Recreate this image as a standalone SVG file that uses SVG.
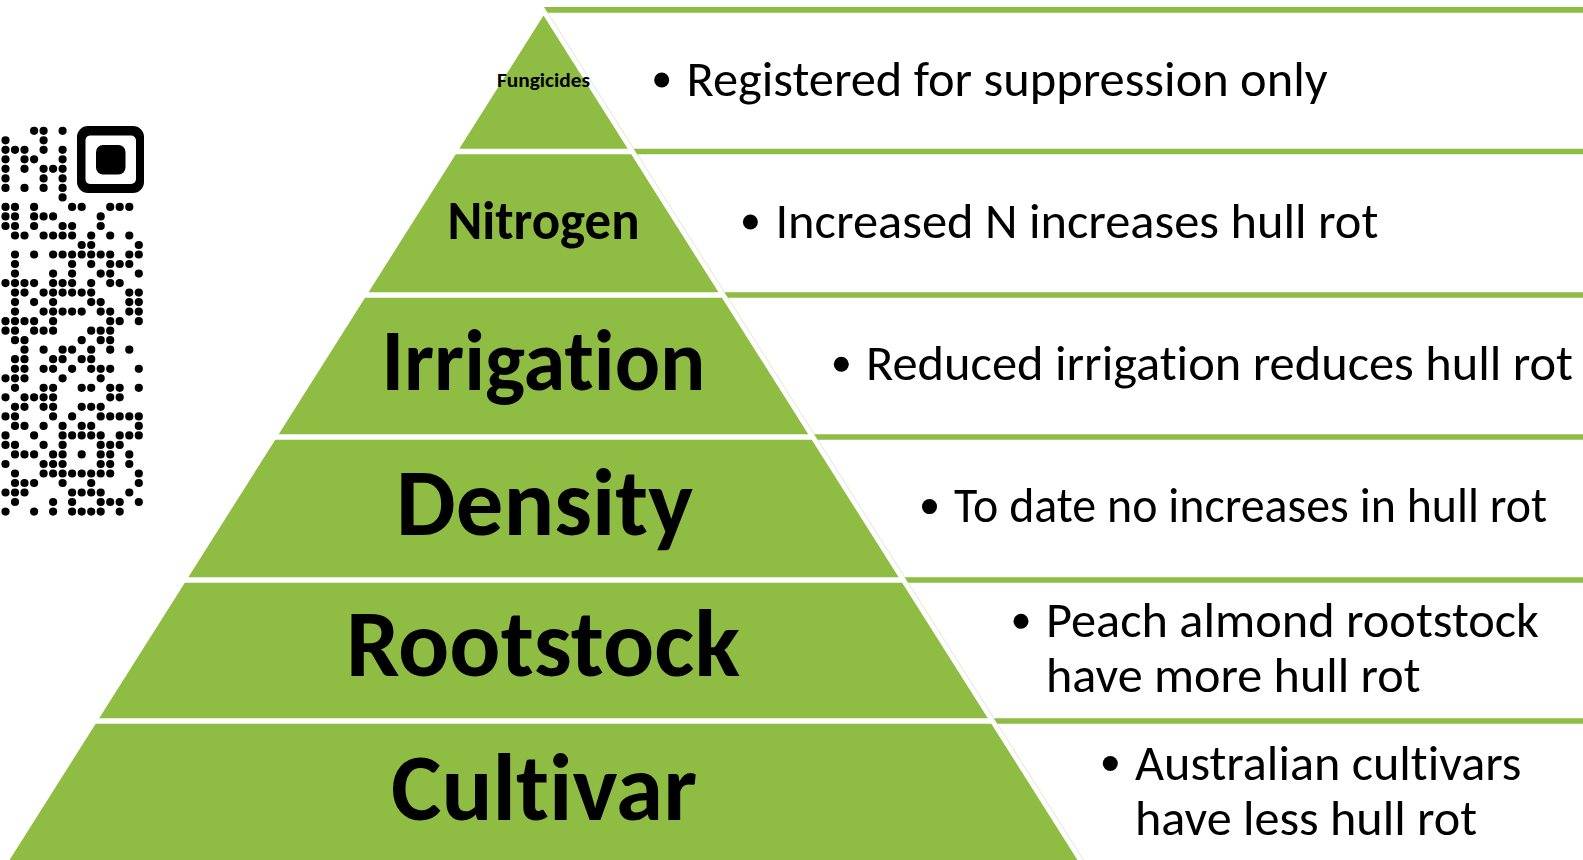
<svg xmlns="http://www.w3.org/2000/svg" width="1583" height="860" viewBox="0 0 1583 860">
<style>
.band{fill:#8FBD43}
.bar{fill:#8FBD43}
.lbl{font-family:Carlito,"Liberation Sans",Arial,sans-serif;font-weight:bold;fill:#000;text-anchor:middle;font-variant-ligatures:none;font-feature-settings:"liga" 0,"clig" 0}
.txt{font-family:Carlito,"Liberation Sans",Arial,sans-serif;font-size:50px;fill:#000;font-variant-ligatures:none;font-feature-settings:"liga" 0,"clig" 0}
.bul{fill:#000}
</style>
<rect x="0" y="0" width="1583" height="860" fill="#fff"/>
<g id="qr">
<path fill="none" stroke="#000" stroke-width="8.2" stroke-linecap="round" d="M34.1 130.8h0M43.6 130.8h0M62.6 130.8h0M5.5 140.3h0M43.6 140.3h0M5.5 149.8h0M15 149.8h0M24.5 149.8h0M43.6 149.8h0M62.6 149.8h0M5.5 159.3h0M24.5 159.3h0M34.1 159.3h0M62.6 159.3h0M5.5 168.8h0M24.5 168.8h0M43.6 168.8h0M53.1 168.8h0M62.6 168.8h0M5.5 178.4h0M43.6 178.4h0M62.6 178.4h0M5.5 187.9h0M24.5 187.9h0M43.6 187.9h0M62.6 187.9h0M62.6 197.4h0M5.5 206.9h0M15 206.9h0M34.1 206.9h0M72.1 206.9h0M81.7 206.9h0M110.2 206.9h0M119.7 206.9h0M129.3 206.9h0M5.5 216.4h0M15 216.4h0M34.1 216.4h0M43.6 216.4h0M53.1 216.4h0M100.7 216.4h0M5.5 226h0M15 226h0M34.1 226h0M62.6 226h0M72.1 226h0M100.7 226h0M15 235.5h0M24.5 235.5h0M43.6 235.5h0M53.1 235.5h0M62.6 235.5h0M72.1 235.5h0M91.2 235.5h0M110.2 235.5h0M129.3 235.5h0M81.7 245h0M91.2 245h0M138.8 245h0M15 254.5h0M34.1 254.5h0M53.1 254.5h0M62.6 254.5h0M72.1 254.5h0M81.7 254.5h0M91.2 254.5h0M100.7 254.5h0M110.2 254.5h0M129.3 254.5h0M138.8 254.5h0M15 264h0M72.1 264h0M91.2 264h0M110.2 264h0M119.7 264h0M129.3 264h0M15 273.6h0M53.1 273.6h0M72.1 273.6h0M100.7 273.6h0M110.2 273.6h0M138.8 273.6h0M5.5 283.1h0M15 283.1h0M24.5 283.1h0M34.1 283.1h0M53.1 283.1h0M62.6 283.1h0M72.1 283.1h0M91.2 283.1h0M110.2 283.1h0M119.7 283.1h0M15 292.6h0M24.5 292.6h0M43.6 292.6h0M53.1 292.6h0M62.6 292.6h0M72.1 292.6h0M81.7 292.6h0M91.2 292.6h0M129.3 292.6h0M138.8 292.6h0M15 302.1h0M34.1 302.1h0M53.1 302.1h0M91.2 302.1h0M100.7 302.1h0M129.3 302.1h0M138.8 302.1h0M15 311.6h0M43.6 311.6h0M53.1 311.6h0M62.6 311.6h0M72.1 311.6h0M81.7 311.6h0M100.7 311.6h0M110.2 311.6h0M129.3 311.6h0M138.8 311.6h0M5.5 321.2h0M15 321.2h0M24.5 321.2h0M34.1 321.2h0M53.1 321.2h0M110.2 321.2h0M119.7 321.2h0M138.8 321.2h0M5.5 330.7h0M15 330.7h0M34.1 330.7h0M43.6 330.7h0M53.1 330.7h0M91.2 330.7h0M100.7 330.7h0M110.2 330.7h0M15 340.2h0M24.5 340.2h0M81.7 340.2h0M100.7 340.2h0M110.2 340.2h0M24.5 349.7h0M43.6 349.7h0M62.6 349.7h0M72.1 349.7h0M91.2 349.7h0M110.2 349.7h0M129.3 349.7h0M15 359.2h0M24.5 359.2h0M53.1 359.2h0M62.6 359.2h0M81.7 359.2h0M91.2 359.2h0M15 368.8h0M24.5 368.8h0M43.6 368.8h0M53.1 368.8h0M72.1 368.8h0M91.2 368.8h0M100.7 368.8h0M110.2 368.8h0M138.8 368.8h0M5.5 378.3h0M15 378.3h0M24.5 378.3h0M62.6 378.3h0M100.7 378.3h0M15 387.8h0M43.6 387.8h0M53.1 387.8h0M81.7 387.8h0M91.2 387.8h0M110.2 387.8h0M119.7 387.8h0M138.8 387.8h0M5.5 397.3h0M24.5 397.3h0M34.1 397.3h0M43.6 397.3h0M53.1 397.3h0M110.2 397.3h0M119.7 397.3h0M15 406.8h0M24.5 406.8h0M43.6 406.8h0M53.1 406.8h0M81.7 406.8h0M91.2 406.8h0M100.7 406.8h0M5.5 416.4h0M15 416.4h0M53.1 416.4h0M72.1 416.4h0M100.7 416.4h0M110.2 416.4h0M119.7 416.4h0M129.3 416.4h0M138.8 416.4h0M15 425.9h0M24.5 425.9h0M43.6 425.9h0M62.6 425.9h0M81.7 425.9h0M91.2 425.9h0M138.8 425.9h0M5.5 435.4h0M34.1 435.4h0M62.6 435.4h0M72.1 435.4h0M81.7 435.4h0M91.2 435.4h0M100.7 435.4h0M119.7 435.4h0M129.3 435.4h0M138.8 435.4h0M5.5 444.9h0M15 444.9h0M43.6 444.9h0M62.6 444.9h0M100.7 444.9h0M110.2 444.9h0M119.7 444.9h0M15 454.4h0M24.5 454.4h0M34.1 454.4h0M53.1 454.4h0M62.6 454.4h0M81.7 454.4h0M100.7 454.4h0M110.2 454.4h0M129.3 454.4h0M5.5 464h0M43.6 464h0M53.1 464h0M62.6 464h0M100.7 464h0M110.2 464h0M129.3 464h0M15 473.5h0M43.6 473.5h0M53.1 473.5h0M62.6 473.5h0M72.1 473.5h0M81.7 473.5h0M91.2 473.5h0M100.7 473.5h0M110.2 473.5h0M138.8 473.5h0M15 483h0M24.5 483h0M34.1 483h0M62.6 483h0M91.2 483h0M138.8 483h0M5.5 492.5h0M15 492.5h0M24.5 492.5h0M72.1 492.5h0M81.7 492.5h0M91.2 492.5h0M100.7 492.5h0M129.3 492.5h0M15 502h0M53.1 502h0M72.1 502h0M100.7 502h0M110.2 502h0M119.7 502h0M138.8 502h0M5.5 511.6h0M34.1 511.6h0M53.1 511.6h0M72.1 511.6h0M81.7 511.6h0M91.2 511.6h0M100.7 511.6h0M119.7 511.6h0"/>
<path fill="#000" fill-rule="evenodd" d="M88 126H133A11 11 0 0 1 144 137V182A11 11 0 0 1 133 193H88A11 11 0 0 1 77 182V137A11 11 0 0 1 88 126ZM90 135.5H131A5 5 0 0 1 136 140.5V179A5 5 0 0 1 131 184H90A5 5 0 0 1 85.5 179V140.5A5 5 0 0 1 90 135.5Z"/>
<rect x="96" y="145" width="29.5" height="29.5" rx="7" fill="#000"/>
</g>
<g id="divider">
<line x1="544.1" y1="7" x2="1083.5" y2="860" stroke="#dfe9cf" stroke-width="1"/>
</g>
<g id="level-fungicides">
<polygon class="band" points="543.5,15.5 627.75,148.75 459.25,148.75"/>
<text class="lbl" x="543.5" y="87" font-size="21" textLength="93" lengthAdjust="spacingAndGlyphs">Fungicides</text>
</g>
<g id="level-nitrogen">
<polygon class="band" points="455.77,154.25 631.23,154.25 718.49,292.25 368.51,292.25"/>
<text class="lbl" x="543.5" y="239.3" font-size="54" textLength="192" lengthAdjust="spacingAndGlyphs">Nitrogen</text>
</g>
<g id="level-irrigation">
<polygon class="band" points="365.03,297.75 721.97,297.75 808.27,434.25 278.73,434.25"/>
<text class="lbl" x="543.5" y="389.7" font-size="86" textLength="324" lengthAdjust="spacingAndGlyphs">Irrigation</text>
</g>
<g id="level-density">
<polygon class="band" points="275.25,439.75 811.75,439.75 898.69,577.25 188.31,577.25"/>
<text class="lbl" x="544.5" y="535" font-size="96" textLength="297" lengthAdjust="spacingAndGlyphs">Density</text>
</g>
<g id="level-rootstock">
<polygon class="band" points="184.83,582.75 902.17,582.75 987.85,718.25 99.15,718.25"/>
<text class="lbl" x="543" y="676.4" font-size="96" textLength="394" lengthAdjust="spacingAndGlyphs">Rootstock</text>
</g>
<g id="level-cultivar">
<polygon class="band" points="95.67,723.75 991.33,723.75 1077.47,860 9.53,860"/>
<text class="lbl" x="544" y="820" font-size="96" textLength="306" lengthAdjust="spacingAndGlyphs">Cultivar</text>
</g>
<g id="note-fungicides">
<polygon class="bar" points="544.1,7 1583,7 1583,12.7 547.7,12.7"/>
<circle class="bul" cx="661.7" cy="80" r="7.5"/>
<text class="txt" x="686.5" y="95.5" textLength="641" lengthAdjust="spacingAndGlyphs">Registered for suppression only</text>
</g>
<g id="note-nitrogen">
<polygon class="bar" points="633.75,148.75 1583,148.75 1583,154.25 637.23,154.25"/>
<circle class="bul" cx="750.4" cy="222" r="7.5"/>
<text class="txt" x="775.4" y="237.8" textLength="603" lengthAdjust="spacingAndGlyphs">Increased N increases hull rot</text>
</g>
<g id="note-irrigation">
<polygon class="bar" points="724.49,292.25 1583,292.25 1583,297.75 727.97,297.75"/>
<circle class="bul" cx="841.3" cy="364.3" r="7.5"/>
<text class="txt" x="866" y="380.1" textLength="707" lengthAdjust="spacingAndGlyphs">Reduced irrigation reduces hull rot</text>
</g>
<g id="note-density">
<polygon class="bar" points="814.27,434.25 1583,434.25 1583,439.75 817.75,439.75"/>
<circle class="bul" cx="929.5" cy="506.6" r="7.5"/>
<text class="txt" x="954" y="522.4" textLength="593" lengthAdjust="spacingAndGlyphs">To date no increases in hull rot</text>
</g>
<g id="note-rootstock">
<polygon class="bar" points="904.69,577.25 1583,577.25 1583,582.75 908.17,582.75"/>
<circle class="bul" cx="1021" cy="621.3" r="7.5"/>
<text class="txt" x="1046" y="637.2" textLength="493" lengthAdjust="spacingAndGlyphs">Peach almond rootstock</text>
<text class="txt" x="1046" y="692.2" textLength="374.5" lengthAdjust="spacingAndGlyphs">have more hull rot</text>
</g>
<g id="note-cultivar">
<polygon class="bar" points="993.85,718.25 1583,718.25 1583,723.75 997.33,723.75"/>
<circle class="bul" cx="1110.3" cy="763.5" r="7.5"/>
<text class="txt" x="1135" y="779.5" textLength="386.5" lengthAdjust="spacingAndGlyphs">Australian cultivars</text>
<text class="txt" x="1135" y="834.5" textLength="342" lengthAdjust="spacingAndGlyphs">have less hull rot</text>
</g>
</svg>
